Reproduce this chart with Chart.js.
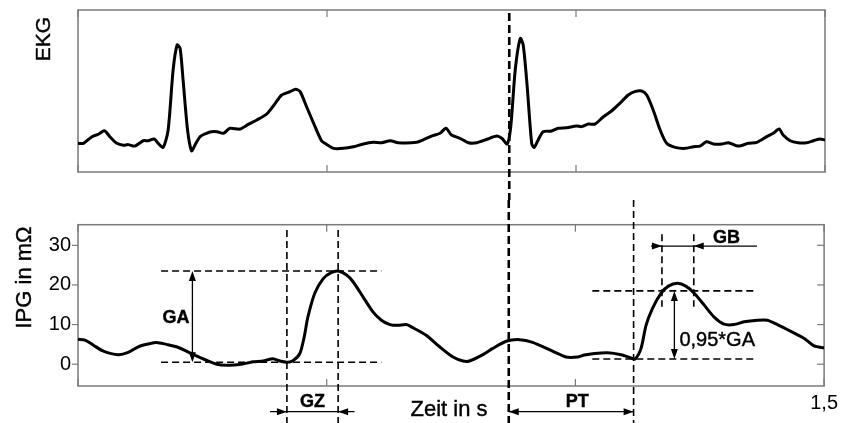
<!DOCTYPE html>
<html>
<head>
<meta charset="utf-8">
<script src="https://cdn.jsdelivr.net/npm/chart.js@4.4.1/dist/chart.umd.min.js"></script>
<style>
html,body{margin:0;padding:0;background:#fff;}
#wrap{position:relative;width:843px;height:423px;overflow:hidden;background:#fff;}
canvas{position:absolute;left:0;}
#ekg{top:0;}
#ipg{top:200px;}
</style>
</head>
<body>
<div id="wrap">
<canvas id="ekg" width="843" height="200"></canvas>
<canvas id="ipg" width="843" height="223"></canvas>
</div>
<script>
// EKG (Zeit in s, Werte willkuerlich 0..100)
var ekgZeit = [0.000,0.011,0.028,0.041,0.053,0.064,0.078,0.091,0.101,0.114,0.131,0.141,0.153,0.161,0.171,0.181,0.191,0.199,0.205,0.211,0.220,0.228,0.235,0.245,0.258,0.268,0.279,0.292,0.305,0.325,0.342,0.359,0.379,0.396,0.409,0.426,0.437,0.446,0.459,0.476,0.489,0.496,0.513,0.533,0.553,0.573,0.593,0.610,0.627,0.643,0.680,0.693,0.710,0.727,0.739,0.750,0.767,0.784,0.801,0.821,0.841,0.851,0.862,0.869,0.878,0.888,0.894,0.902,0.911,0.916,0.924,0.934,0.951,0.964,0.981,1.001,1.011,1.025,1.038,1.055,1.072,1.088,1.105,1.118,1.132,1.142,1.155,1.169,1.182,1.199,1.219,1.236,1.249,1.262,1.276,1.293,1.306,1.326,1.346,1.363,1.383,1.396,1.408,1.416,1.430,1.446,1.463,1.477,1.490,1.500];
var ekgWerte = [17.7,17.7,21.8,23.3,25.5,21.8,17.7,16.5,16.9,16.0,19.3,19.3,20.4,17.7,15.2,25.9,63.0,78.4,76.4,56.8,25.9,13.1,16.7,21.8,23.9,24.9,24.9,23.9,27.0,26.5,29.4,32.1,35.8,42.4,47.5,49.6,51.1,49.6,40.3,28.0,19.3,17.7,14.6,14.6,15.6,17.3,18.3,18.1,19.3,18.1,18.3,19.8,22.2,23.9,27.0,22.8,20.8,18.1,18.1,20.2,22.2,20.8,17.3,28.0,63.0,82.5,78.4,52.7,17.7,15.2,19.8,24.9,25.3,27.0,27.3,28.4,28.0,29.6,29.6,34.1,37.8,42.4,47.5,49.6,50.0,47.5,38.3,25.9,17.7,15.2,14.6,15.6,16.0,18.7,17.3,17.3,18.1,16.0,17.7,18.3,21.8,23.9,26.5,22.8,19.3,18.1,18.1,19.3,20.4,19.8];

// IPG in mOhm
var ipgZeit = [0.000,0.014,0.031,0.051,0.081,0.101,0.121,0.141,0.158,0.178,0.198,0.218,0.238,0.258,0.279,0.299,0.325,0.352,0.372,0.392,0.406,0.420,0.432,0.446,0.455,0.462,0.476,0.493,0.509,0.523,0.540,0.553,0.573,0.593,0.610,0.627,0.643,0.660,0.672,0.700,0.727,0.754,0.774,0.787,0.814,0.834,0.861,0.888,0.914,0.954,0.981,1.005,1.018,1.038,1.065,1.092,1.112,1.120,1.132,1.142,1.155,1.172,1.187,1.205,1.222,1.239,1.259,1.279,1.299,1.319,1.339,1.366,1.386,1.406,1.433,1.460,1.480,1.500];
var ipgWerte = [6.3,6.1,4.8,3.3,2.4,3.0,4.4,5.1,5.5,5.0,4.4,3.3,2.1,1.0,0.0,-0.25,-0.1,0.6,0.8,1.4,0.8,0.5,0.9,2.7,7.0,11.8,17.9,21.6,23.1,23.5,22.5,20.8,17.0,13.2,11.1,10.0,9.8,10.0,9.3,7.3,4.4,1.8,0.8,0.8,2.4,4.0,5.8,6.2,5.5,3.3,1.8,1.8,2.3,2.7,2.9,2.4,1.6,1.3,4.0,9.8,14.1,17.9,19.7,20.4,19.7,17.9,14.9,11.9,10.1,10.0,10.7,11.1,11.1,10.0,8.3,6.5,4.6,4.1];

// Achsen
var xTicks = [0, 0.5, 1.0, 1.5];
var xTickLabels = ['', '', '', '1,5'];

// Markierungen (Zeit in s bzw. mOhm)
var rZacke = 0.866;
var gaPegel = [0.5, 23.5];
var gaBereich = [0.167, 0.61];
var gaPfeil = 0.23;
var gzZeiten = [0.42, 0.523];
var gzPfeil = [0.386, 0.556];
var ptZeiten = [0.866, 1.117];
var gbZeiten = [1.174, 1.238];
var gbPfeil = [1.152, 1.365];
var gbHoehe = 29.8;
var gbLinie = [32.8, 14.5];
var ga95Pegel = [1.3, 18.5];
var ga95Bereich = [1.034, 1.365];
var ga95Pfeil = 1.199;

var FONT = "'Liberation Sans', Arial, Helvetica, sans-serif";

function toXY(xs, ys){
    var out = [];
    for(var i = 0; i < xs.length; i++){
        out.push({x: xs[i], y: ys[i]});
    }
    return out;
}

function strich(ctx, x1, y1, x2, y2, w, dash){
    ctx.save();
    ctx.lineWidth = w;
    ctx.setLineDash(dash || []);
    ctx.beginPath();
    ctx.moveTo(x1, y1);
    ctx.lineTo(x2, y2);
    ctx.stroke();
    ctx.restore();
}

// Pfeilspitze, Spitze bei (x,y)
function spitze(ctx, x, y, dir){
    var l = 10, b = 3.5;
    ctx.beginPath();
    ctx.moveTo(x, y);
    if(dir == 'right'){ ctx.lineTo(x-l, y-b); ctx.lineTo(x-l, y+b); }
    else if(dir == 'left'){ ctx.lineTo(x+l, y-b); ctx.lineTo(x+l, y+b); }
    else if(dir == 'up'){ ctx.lineTo(x-b, y+l); ctx.lineTo(x+b, y+l); }
    else { ctx.lineTo(x-b, y-l); ctx.lineTo(x+b, y-l); }
    ctx.closePath();
    ctx.fill();
}

function text(ctx, s, x, y, font, rot, align){
    ctx.save();
    ctx.font = font;
    ctx.fillStyle = '#000';
    ctx.strokeStyle = '#000';
    ctx.lineWidth = 0.4;
    ctx.textAlign = align || 'center';
    ctx.textBaseline = 'middle';
    ctx.translate(x, y);
    if(rot) ctx.rotate(rot);
    ctx.fillText(s, 0, 0);
    ctx.strokeText(s, 0, 0);
    ctx.restore();
}

var rahmen = {
    id: 'rahmen',
    beforeDatasetsDraw: function(chart, args, opts){
        var ctx = chart.ctx, a = chart.chartArea, xs = chart.scales.x;
        ctx.save();
        ctx.strokeStyle = '#7a7a7a';
        ctx.lineWidth = 1.5;
        ctx.strokeRect(a.left, a.top, a.right - a.left, a.bottom - a.top);
        xTicks.forEach(function(t){
            var px = xs.getPixelForValue(t);
            strich(ctx, px, a.top, px, a.top + 7, 1.2);
            strich(ctx, px, a.bottom, px, a.bottom - 7, 1.2);
        });
        if(opts.yTicks){
            var ys = chart.scales.y;
            ys.ticks.forEach(function(tk){
                var py = ys.getPixelForValue(tk.value);
                strich(ctx, a.right, py, a.right - 7, py, 1.2);
                strich(ctx, a.left, py, a.left - 6, py, 1.2);
            });
        }
        ctx.restore();
    }
};

var ekgMarken = {
    id: 'ekgMarken',
    afterDatasetsDraw: function(chart){
        var ctx = chart.ctx, a = chart.chartArea, xs = chart.scales.x;
        ctx.save();
        ctx.strokeStyle = '#000';
        var px = xs.getPixelForValue(rZacke);
        strich(ctx, px, a.top + 3, px, chart.height, 2.6, [8, 4]);
        text(ctx, 'EKG', 44, 39, '21px ' + FONT, -Math.PI/2);
        ctx.restore();
    }
};

var ipgMarken = {
    id: 'ipgMarken',
    afterDatasetsDraw: function(chart){
        var ctx = chart.ctx, a = chart.chartArea, xs = chart.scales.x, ys = chart.scales.y;
        var X = function(v){ return xs.getPixelForValue(v); };
        var Y = function(v){ return ys.getPixelForValue(v); };
        var unten = a.bottom + 25.7;
        var d = [7, 4];
        var dw = 1.6;
        ctx.save();
        ctx.strokeStyle = '#000';
        ctx.fillStyle = '#000';

        // R-Zacke
        strich(ctx, X(rZacke), 0, X(rZacke), chart.height, 2.6, [8, 4]);

        // GA
        gaPegel.forEach(function(v){
            strich(ctx, X(gaBereich[0]), Y(v), X(gaBereich[1]), Y(v), dw, d);
        });
        strich(ctx, X(gaPfeil), Y(gaPegel[0]) - 6, X(gaPfeil), Y(gaPegel[1]) + 6, 1.3);
        spitze(ctx, X(gaPfeil), Y(gaPegel[1]), 'up');
        spitze(ctx, X(gaPfeil), Y(gaPegel[0]), 'down');
        text(ctx, 'GA', X(gaPfeil) - 16.5, Y(11.6), 'bold 18px ' + FONT);

        // GZ
        gzZeiten.forEach(function(t){
            strich(ctx, X(t), a.top + 5.3, X(t), chart.height, dw, d);
        });
        strich(ctx, X(gzPfeil[0]), unten, X(gzPfeil[1]), unten, 1.3);
        spitze(ctx, X(gzZeiten[0]), unten, 'right');
        spitze(ctx, X(gzZeiten[1]), unten, 'left');
        text(ctx, 'GZ', (X(gzZeiten[0]) + X(gzZeiten[1])) / 2, unten - 9.5, 'bold 18px ' + FONT);

        // PT
        strich(ctx, X(ptZeiten[1]), 0, X(ptZeiten[1]), chart.height, dw, d);
        strich(ctx, X(ptZeiten[0]), unten, X(ptZeiten[1]), unten, 1.3);
        spitze(ctx, X(ptZeiten[0]), unten, 'left');
        spitze(ctx, X(ptZeiten[1]), unten, 'right');
        text(ctx, 'PT', (X(ptZeiten[0]) + X(ptZeiten[1])) / 2 + 6, unten - 9.5, 'bold 18px ' + FONT);

        // Achsentitel
        text(ctx, 'Zeit in s', 449, unten - 1.5, '22px ' + FONT);
        text(ctx, 'IPG in m\u03A9', 24.5, 77.5, '22px ' + FONT, -Math.PI/2);

        // GB
        gbZeiten.forEach(function(t){
            strich(ctx, X(t), Y(gbLinie[0]), X(t), Y(gbLinie[1]), dw, d);
        });
        strich(ctx, X(gbPfeil[0]), Y(gbHoehe), X(gbPfeil[1]), Y(gbHoehe), 1.3);
        spitze(ctx, X(gbZeiten[0]), Y(gbHoehe), 'right');
        spitze(ctx, X(gbZeiten[1]), Y(gbHoehe), 'left');
        text(ctx, 'GB', 726.5, Y(gbHoehe) - 8.5, 'bold 18px ' + FONT);

        // 0,95*GA
        ga95Pegel.forEach(function(v){
            strich(ctx, X(ga95Bereich[0]), Y(v), X(ga95Bereich[1]), Y(v), dw, d);
        });
        strich(ctx, X(ga95Pfeil), Y(ga95Pegel[0]) - 6, X(ga95Pfeil), Y(ga95Pegel[1]) + 6, 1.3);
        spitze(ctx, X(ga95Pfeil), Y(ga95Pegel[1]), 'up');
        spitze(ctx, X(ga95Pfeil), Y(ga95Pegel[0]), 'down');
        text(ctx, '0,95*GA', X(ga95Pfeil) + 5, Y(6), '20px ' + FONT, 0, 'left');

        ctx.restore();
    }
};

var ekgChart = new Chart(document.getElementById('ekg'), {
    type: 'line',
    data: {
        datasets: [{
            data: toXY(ekgZeit, ekgWerte),
            borderColor: '#000',
            borderWidth: 3,
            pointRadius: 0,
            tension: 0.25,
            borderJoinStyle: 'round',
            fill: false
        }]
    },
    options: {
        responsive: false,
        animation: false,
        devicePixelRatio: 1,
        layout: { padding: { left: 78, right: 18, top: 10, bottom: 28 } },
        plugins: { legend: { display: false }, tooltip: { enabled: false }, rahmen: {} },
        scales: {
            x: { type: 'linear', min: 0, max: 1.5, display: false },
            y: { min: 0, max: 100, display: false }
        }
    },
    plugins: [rahmen, ekgMarken]
});

var ipgChart = new Chart(document.getElementById('ipg'), {
    type: 'line',
    data: {
        datasets: [{
            data: toXY(ipgZeit, ipgWerte),
            borderColor: '#000',
            borderWidth: 3,
            pointRadius: 0,
            tension: 0.25,
            borderJoinStyle: 'round',
            fill: false
        }]
    },
    options: {
        responsive: false,
        animation: false,
        devicePixelRatio: 1,
        layout: { padding: { left: 0, right: 18, top: 24.7, bottom: 0 } },
        plugins: { legend: { display: false }, tooltip: { enabled: false }, rahmen: { yTicks: true } },
        scales: {
            x: {
                type: 'linear', min: 0, max: 1.5,
                grid: { display: false, drawTicks: false },
                border: { display: false },
                afterFit: function(s){ s.height = 37; },
                afterBuildTicks: function(s){ s.ticks = xTicks.map(function(v){ return {value: v}; }); },
                ticks: {
                    autoSkip: false, maxRotation: 0, padding: 5,
                    color: '#000', font: { family: FONT, size: 20 },
                    callback: function(v){ var i = xTicks.indexOf(v); return i >= 0 ? xTickLabels[i] : ''; }
                }
            },
            y: {
                min: -5.5, max: 35.2,
                grid: { display: false, drawTicks: false },
                border: { display: false },
                afterFit: function(s){ s.width = 78; },
                ticks: {
                    stepSize: 10, includeBounds: false, padding: 7,
                    color: '#000', font: { family: FONT, size: 20 }
                }
            }
        }
    },
    plugins: [rahmen, ipgMarken]
});
</script>
</body>
</html>
